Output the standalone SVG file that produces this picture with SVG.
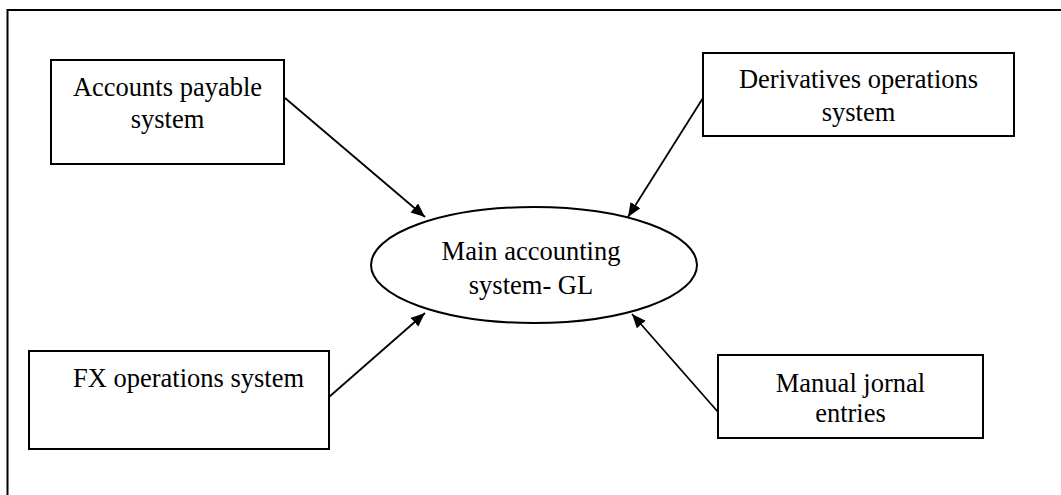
<svg xmlns="http://www.w3.org/2000/svg" width="1061" height="495" viewBox="0 0 1061 495">
<style>
.box{fill:#fff;stroke:#000;stroke-width:2}
.t{font-family:'Liberation Serif',serif;font-size:26.5px;fill:#000;text-anchor:middle}
.c{stroke:#000;stroke-width:1.8;fill:none;marker-end:url(#ah)}
</style>
<defs>
<marker id="ah" viewBox="0 0 12 10" refX="12" refY="5" markerWidth="14" markerHeight="12" markerUnits="userSpaceOnUse" orient="auto">
<path d="M0,0 L12,5 L0,10 Z" fill="#000"/>
</marker>
</defs>
<rect width="1061" height="495" fill="#fff"/>
<path d="M7.5,495 V10 H1061" fill="none" stroke="#000" stroke-width="2"/>
<g id="connectors">
<line class="c" x1="285" y1="98" x2="425" y2="217"/>
<line class="c" x1="703" y1="98" x2="628" y2="217"/>
<line class="c" x1="329" y1="397" x2="425" y2="313"/>
<line class="c" x1="718" y1="412" x2="632" y2="314"/>
</g>
<g id="main">
<ellipse class="box" cx="534" cy="265" rx="163" ry="58"/>
<text class="t" x="531" y="260">Main accounting</text>
<text class="t" x="531" y="294">system- GL</text>
</g>
<g id="accounts-payable">
<rect class="box" x="51" y="60" width="233" height="104"/>
<text class="t" x="167.5" y="96">Accounts payable</text>
<text class="t" x="167.5" y="128">system</text>
</g>
<g id="derivatives">
<rect class="box" x="703" y="53" width="311" height="83"/>
<text class="t" x="858.5" y="88">Derivatives operations</text>
<text class="t" x="858.5" y="121">system</text>
</g>
<g id="fx">
<rect class="box" x="29" y="351" width="300" height="98"/>
<text class="t" x="188.5" y="387">FX operations system</text>
</g>
<g id="manual">
<rect class="box" x="718" y="355" width="265" height="83"/>
<text class="t" x="850.5" y="392">Manual jornal</text>
<text class="t" x="850.5" y="422">entries</text>
</g>
</svg>
